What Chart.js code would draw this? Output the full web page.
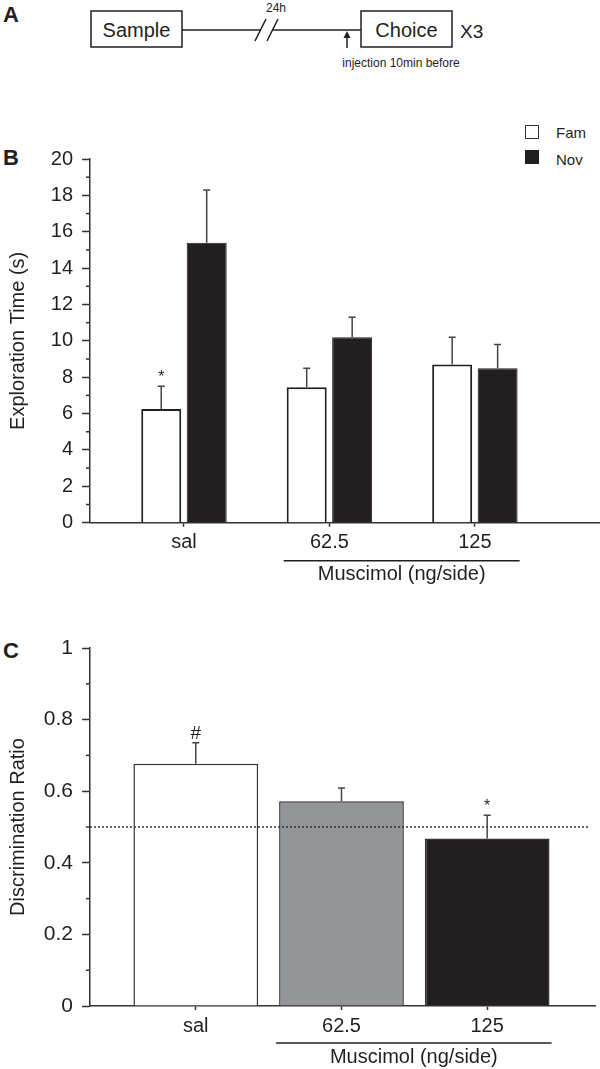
<!DOCTYPE html>
<html>
<head>
<meta charset="utf-8">
<script src="https://cdn.jsdelivr.net/npm/chart.js@4.4.1/dist/chart.umd.min.js"></script>
<style>
  body { margin: 0; background: #fff; font-family: 'Liberation Sans', Arial, sans-serif; color: #231f20; }
  #page { position: relative; width: 600px; height: 1069px; overflow: hidden; }
  #page canvas, #page svg, .lbl { position: absolute; }
  .panel { font-weight: bold; font-size: 22px; left: 3px; }
  .key { width: 12px; height: 12px; border: 1.5px solid #333; left: 525px; }
  .keytext { font-size: 15px; left: 556px; }
</style>
</head>
<body>
<div id="page">
  <div class="lbl panel" style="top:2px">A</div>
  <svg width="600" height="90" style="left:0;top:0" font-family="Liberation Sans, Arial, sans-serif" fill="#231f20">
    <g fill="none" stroke="#231f20" stroke-width="1.5">
      <rect x="91" y="11" width="91" height="36"/>
      <rect x="361" y="11" width="91" height="36"/>
      <line x1="182" y1="30" x2="261" y2="30"/>
      <line x1="273" y1="30" x2="361" y2="30"/>
      <line x1="255" y1="41" x2="266" y2="19"/>
      <line x1="267" y1="41" x2="278" y2="19"/>
      <line x1="347" y1="48" x2="347" y2="34"/>
    </g>
    <path d="M343.5 38 L347 31 L350.5 38 Z"/>
    <text x="136.5" y="36.5" font-size="20" text-anchor="middle">Sample</text>
    <text x="406.5" y="36.5" font-size="20" text-anchor="middle">Choice</text>
    <text x="460" y="38" font-size="19">X3</text>
    <text x="276" y="12" font-size="12" text-anchor="middle">24h</text>
    <text x="401" y="67" font-size="12" text-anchor="middle">injection 10min before</text>
  </svg>

  <div class="lbl panel" style="top:145px">B</div>
  <div class="lbl key" style="top:125px;background:#fff"></div>
  <div class="lbl keytext" style="top:124px">Fam</div>
  <div class="lbl key" style="top:150px;background:#231f20;border-color:#231f20"></div>
  <div class="lbl keytext" style="top:151px">Nov</div>
  <canvas id="chartB" width="600" height="480" style="left:0;top:130px"></canvas>

  <div class="lbl panel" style="top:638px">C</div>
  <canvas id="chartC" width="600" height="449" style="left:0;top:620px"></canvas>
</div>

<script>
// Panel B: exploration time
const groupLabels = ['sal', '62.5', '125'];
const famValues = [6.25, 7.45, 8.7];
const famErrors = [1.25, 1.05, 1.5];
const novValues = [15.4, 10.2, 8.5];
const novErrors = [2.9, 1.1, 1.3];
const famMarks = ['*', '', ''];
const novMarks = ['', '', ''];
const bTicks = [0, 2, 4, 6, 8, 10, 12, 14, 16, 18, 20];

// Panel C: discrimination ratio
const ratioValues = [0.677, 0.572, 0.468];
const ratioErrors = [0.058, 0.037, 0.065];
const ratioMarks = ['#', '', '*'];
const ratioColors = ['#ffffff', '#939598', '#231f20'];
const cTicks = [0, 0.2, 0.4, 0.6, 0.8, 1];
const chanceLevel = 0.5;

const axisTitle = 'Muscimol (ng/side)';
const ink = '#231f20';
const fontFamily = "'Liberation Sans', Arial, sans-serif";

Chart.defaults.font.family = fontFamily;
Chart.defaults.color = ink;

// error bars, marks, minor ticks, muscimol bracket, chance line
const extras = {
  id: 'extras',
  afterDatasetsDraw(chart, args, opts) {
    const ctx = chart.ctx;
    const y = chart.scales.y;
    const area = chart.chartArea;
    ctx.save();
    ctx.strokeStyle = '#333';
    ctx.lineWidth = 1.5;

    // minor ticks halfway between labelled ticks
    const step = opts.step;
    for (let v = step / 2; v < y.max; v += step) {
      const py = y.getPixelForValue(v);
      ctx.beginPath();
      ctx.moveTo(area.left - 4, py);
      ctx.lineTo(area.left, py);
      ctx.stroke();
    }

    if (opts.chance != null) {
      const py = y.getPixelForValue(opts.chance);
      ctx.setLineDash([2, 2]);
      ctx.beginPath();
      ctx.moveTo(area.left, py);
      ctx.lineTo(area.right - 5, py);
      ctx.stroke();
      ctx.setLineDash([]);
    }

    chart.data.datasets.forEach((ds, di) => {
      const meta = chart.getDatasetMeta(di);
      meta.data.forEach((bar, i) => {
        const val = ds.data[i].y;
        const top = y.getPixelForValue(val + ds.errors[i]);
        ctx.strokeStyle = '#444';
        ctx.beginPath();
        ctx.moveTo(bar.x, bar.y);
        ctx.lineTo(bar.x, top);
        ctx.moveTo(bar.x - 3.5, top);
        ctx.lineTo(bar.x + 3.5, top);
        ctx.stroke();
        const mark = ds.marks[i];
        if (mark) {
          ctx.fillStyle = ink;
          ctx.font = (mark === '#' ? '19px ' : '16px ') + fontFamily;
          ctx.textAlign = 'center';
          ctx.textBaseline = 'alphabetic';
          ctx.fillText(mark, bar.x, top - 4);
        }
      });
    });

    // bracket under the muscimol doses
    const first = chart.getDatasetMeta(0).data[1];
    const last = chart.getDatasetMeta(chart.data.datasets.length - 1).data[2];
    const x1 = first.x - first.width / 2 - 3;
    const x2 = last.x + last.width / 2 + 2;
    const ly = area.bottom + opts.bracketGap;
    ctx.strokeStyle = ink;
    ctx.lineWidth = 1.5;
    ctx.beginPath();
    ctx.moveTo(x1, ly);
    ctx.lineTo(x2, ly);
    ctx.stroke();
    ctx.fillStyle = ink;
    ctx.font = '20px ' + fontFamily;
    ctx.textAlign = 'center';
    ctx.textBaseline = 'middle';
    ctx.fillText(axisTitle, (x1 + x2) / 2, ly + 14);
    ctx.restore();
  }
};

function xAxis(min, max, bottomHeight) {
  return {
    type: 'linear',
    min: min,
    max: max,
    offset: false,
    afterBuildTicks: s => { s.ticks = groupLabels.map((g, i) => ({ value: i })); },
    afterFit: s => { s.height = bottomHeight; },
    ticks: {
      callback: v => groupLabels[v],
      autoSkip: false,
      maxRotation: 0,
      padding: 4,
      font: { size: 20 },
      color: ink
    },
    grid: { drawOnChartArea: false, offset: false, tickLength: 4, tickColor: '#333', tickWidth: 1.5 },
    border: { color: '#333', width: 1.5 }
  };
}

function yAxis(max, title, ticksList, labelSize) {
  return {
    min: 0,
    max: max,
    afterFit: s => { s.width = 90; },
    afterBuildTicks: s => { s.ticks = ticksList.map(v => ({ value: v })); },
    ticks: { padding: 9, font: { size: labelSize }, color: ink, callback: v => String(v) },
    grid: { drawOnChartArea: false, tickLength: 8, tickColor: '#333', tickWidth: 1.5 },
    border: { color: '#333', width: 1.5 },
    title: { display: true, text: title, font: { size: 20 }, color: ink, padding: { top: 6, bottom: 0 } }
  };
}

new Chart(document.getElementById('chartB'), {
  type: 'bar',
  data: {
    datasets: [
      {
        label: 'Fam',
        data: famValues.map((v, i) => ({ x: i, y: v })),
        errors: famErrors,
        marks: famMarks,
        backgroundColor: '#ffffff',
        borderColor: ink,
        borderWidth: 2
      },
      {
        label: 'Nov',
        data: novValues.map((v, i) => ({ x: i, y: v })),
        errors: novErrors,
        marks: novMarks,
        backgroundColor: ink,
        borderColor: ink,
        borderWidth: 1
      }
    ]
  },
  options: {
    responsive: false,
    animation: false,
    devicePixelRatio: 1,
    categoryPercentage: 0.625,
    barPercentage: 0.88,
    layout: { padding: { top: 29, bottom: 47.3, left: 0, right: 0 } },
    scales: {
      x: xAxis(-0.646, 2.86, 40),
      y: yAxis(20, 'Exploration Time (s)', bTicks, 20)
    },
    plugins: {
      legend: { display: false },
      tooltip: { enabled: false },
      extras: { step: 2, chance: null, bracketGap: 38 }
    }
  },
  plugins: [extras]
});

new Chart(document.getElementById('chartC'), {
  type: 'bar',
  data: {
    datasets: [
      {
        label: 'Discrimination Ratio',
        data: ratioValues.map((v, i) => ({ x: i, y: v })),
        errors: ratioErrors,
        marks: ratioMarks,
        backgroundColor: ratioColors,
        borderColor: '#333',
        borderWidth: 1.5
      }
    ]
  },
  options: {
    responsive: false,
    animation: false,
    devicePixelRatio: 1,
    categoryPercentage: 1,
    barPercentage: 0.856,
    layout: { padding: { top: 28, bottom: 23, left: 0, right: 5 } },
    scales: {
      x: xAxis(-0.726, 2.74, 40),
      y: yAxis(1, 'Discrimination Ratio', cTicks, 21)
    },
    plugins: {
      legend: { display: false },
      tooltip: { enabled: false },
      extras: { step: 0.2, chance: chanceLevel, bracketGap: 37 }
    }
  },
  plugins: [extras]
});
</script>
</body>
</html>
